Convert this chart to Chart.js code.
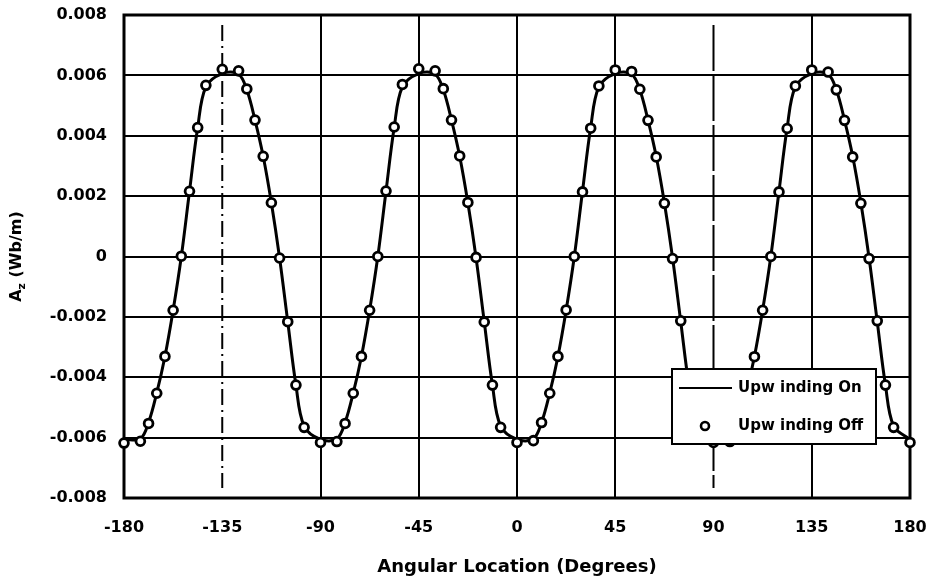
<!DOCTYPE html>
<html>
<head>
<meta charset="utf-8">
<title>Vector potential vs angular location</title>
<script src="https://cdn.jsdelivr.net/npm/chart.js@4"></script>
<style>
    html, body { margin: 0; padding: 0; background: #ffffff; }
    #chart-wrap { width: 937px; height: 585px; }
</style>
</head>
<body>
<div id="chart-wrap">
    <canvas id="az-chart" width="937" height="585" role="img" aria-label="A_z versus angular location"></canvas>
</div>
<script>
// Mesh node angles (degrees) around the air gap
const angles = [
    -180, -172.5, -168.75, -165, -161.25, -157.5, -153.75, -150, -146.25, -142.5,
    -135, -127.5, -123.75, -120, -116.25, -112.5, -108.75, -105, -101.25, -97.5,
    -90, -82.5, -78.75, -75, -71.25, -67.5, -63.75, -60, -56.25, -52.5,
    -45, -37.5, -33.75, -30, -26.25, -22.5, -18.75, -15, -11.25, -7.5,
    0, 7.5, 11.25, 15, 18.75, 22.5, 26.25, 30, 33.75, 37.5,
    45, 52.5, 56.25, 60, 63.75, 67.5, 71.25, 75, 78.75, 82.5,
    90, 97.5, 101.25, 105, 108.75, 112.5, 116.25, 120, 123.75, 127.5,
    135, 142.5, 146.25, 150, 153.75, 157.5, 161.25, 165, 168.75, 172.5,
    180
];

// A_z (Wb/m) with upwinding switched on (solid curve)
const upwindingOn = [
    -0.00606, -0.00604, -0.00550, -0.00452, -0.00331, -0.00178, 0.00000, 0.00216, 0.00427, 0.00562,
    0.00606, 0.00604, 0.00552, 0.00452, 0.00332, 0.00178, -0.00004, -0.00216, -0.00426, -0.00562,
    -0.00606, -0.00604, -0.00550, -0.00452, -0.00331, -0.00178, 0.00000, 0.00216, 0.00427, 0.00562,
    0.00606, 0.00604, 0.00552, 0.00452, 0.00332, 0.00178, -0.00004, -0.00216, -0.00426, -0.00562,
    -0.00606, -0.00604, -0.00550, -0.00452, -0.00331, -0.00178, 0.00000, 0.00216, 0.00427, 0.00562,
    0.00606, 0.00604, 0.00552, 0.00452, 0.00332, 0.00178, -0.00004, -0.00216, -0.00426, -0.00562,
    -0.00606, -0.00604, -0.00550, -0.00452, -0.00331, -0.00178, 0.00000, 0.00216, 0.00427, 0.00562,
    0.00606, 0.00604, 0.00552, 0.00452, 0.00332, 0.00178, -0.00004, -0.00216, -0.00426, -0.00562,
    -0.00606
];

// A_z (Wb/m) with upwinding switched off (circles)
const upwindingOff = [
    -0.00618, -0.00612, -0.00553, -0.00453, -0.00331, -0.00178, 0.00001, 0.00216, 0.00427, 0.00567,
    0.00620, 0.00615, 0.00555, 0.00452, 0.00332, 0.00178, -0.00005, -0.00216, -0.00426, -0.00566,
    -0.00616, -0.00613, -0.00553, -0.00453, -0.00331, -0.00178, 0.00000, 0.00217, 0.00429, 0.00570,
    0.00622, 0.00615, 0.00556, 0.00452, 0.00333, 0.00179, -0.00003, -0.00217, -0.00426, -0.00566,
    -0.00616, -0.00610, -0.00550, -0.00453, -0.00331, -0.00177, 0.00000, 0.00214, 0.00425, 0.00565,
    0.00618, 0.00613, 0.00554, 0.00451, 0.00330, 0.00176, -0.00007, -0.00213, -0.00426, -0.00566,
    -0.00616, -0.00613, -0.00553, -0.00453, -0.00332, -0.00178, 0.00000, 0.00214, 0.00424, 0.00565,
    0.00618, 0.00611, 0.00552, 0.00451, 0.00330, 0.00176, -0.00007, -0.00213, -0.00426, -0.00566,
    -0.00616
];

// Axis ticks
const xTicks = [-180, -135, -90, -45, 0, 45, 90, 135, 180];
const yTicks = [-0.008, -0.006, -0.004, -0.002, 0, 0.002, 0.004, 0.006, 0.008];

// Vertical grid lines that are broken instead of solid
const brokenLines = [
    { angle: -135, dash: [16, 5, 2, 5] },
    { angle: 90, dash: [46, 4] }
];

const seriesNames = ['Upw inding On', 'Upw inding Off'];
const xTitle = 'Angular Location (Degrees)';

const FONT = '"DejaVu Sans", Arial, sans-serif';

/**
 * Frame round the plot and the broken grid lines
 */
const framePlugin = {
    id: 'frame',
    beforeDatasetsDraw(chart) {
        const { ctx, chartArea: a, scales } = chart;
        ctx.save();
        ctx.strokeStyle = '#000';
        ctx.lineWidth = 2;

        brokenLines.forEach(line => {
            const x = scales.x.getPixelForValue(line.angle);
            ctx.setLineDash(line.dash);
            ctx.beginPath();
            ctx.moveTo(x, a.top + 10);
            ctx.lineTo(x, a.bottom - 10);
            ctx.stroke();
        });

        // heavy border
        ctx.setLineDash([]);
        ctx.lineWidth = 3;
        ctx.strokeRect(a.left, a.top, a.right - a.left, a.bottom - a.top);
        ctx.restore();
    }
};

/**
 * Rotated y axis title with subscript z
 */
const yTitlePlugin = {
    id: 'yTitle',
    afterDraw(chart) {
        const { ctx, chartArea: a } = chart;
        const big = 'bold 16px ' + FONT;
        const small = 'bold 11px ' + FONT;
        ctx.save();
        ctx.font = big;
        const wA = ctx.measureText('A').width;
        const wRest = ctx.measureText(' (Wb/m)').width;
        ctx.font = small;
        const wZ = ctx.measureText('z').width;
        const total = wA + wZ + wRest;

        ctx.translate(17, (a.top + a.bottom) / 2);
        ctx.rotate(-Math.PI / 2);
        ctx.fillStyle = '#000';
        ctx.textBaseline = 'middle';
        ctx.textAlign = 'left';
        let x = -total / 2;
        ctx.font = big;
        ctx.fillText('A', x, 0);
        x += wA;
        ctx.font = small;
        ctx.fillText('z', x, 5);
        x += wZ;
        ctx.font = big;
        ctx.fillText(' (Wb/m)', x, 0);
        ctx.restore();
    }
};

/**
 * Boxed legend inside the lower right of the plot
 */
const legendBoxPlugin = {
    id: 'legendBox',
    afterDatasetsDraw(chart) {
        const { ctx, chartArea: a } = chart;
        const left = a.right - 238;
        const top = a.top + 354;
        const w = 204;
        const h = 75;

        ctx.save();
        ctx.fillStyle = '#fff';
        ctx.fillRect(left, top, w, h);
        ctx.strokeStyle = '#000';
        ctx.lineWidth = 2;
        ctx.strokeRect(left, top, w, h);

        // solid line sample
        const row1 = top + 19;
        const row2 = top + 57;
        ctx.lineWidth = 2;
        ctx.beginPath();
        ctx.moveTo(left + 7, row1);
        ctx.lineTo(left + 60, row1);
        ctx.stroke();

        // circle sample
        ctx.lineWidth = 2.6;
        ctx.beginPath();
        ctx.arc(left + 33, row2, 4, 0, Math.PI * 2);
        ctx.fill();
        ctx.stroke();

        ctx.fillStyle = '#000';
        ctx.font = 'bold 15px ' + FONT;
        ctx.textBaseline = 'middle';
        ctx.fillText(seriesNames[0], left + 66, row1);
        ctx.fillText(seriesNames[1], left + 66, row2);
        ctx.restore();
    }
};

/**
 * Build the A_z chart
 */
function initAzChart() {
    const canvas = document.getElementById('az-chart');
    if (!canvas) return;

    const onPoints = angles.map((a, i) => ({ x: a, y: upwindingOn[i] }));
    const offPoints = angles.map((a, i) => ({ x: a, y: upwindingOff[i] }));
    const brokenAngles = brokenLines.map(l => l.angle);

    new Chart(canvas, {
        type: 'line',
        data: {
            datasets: [
                {
                    label: seriesNames[1],
                    data: offPoints,
                    showLine: false,
                    pointRadius: 4.4,
                    pointBorderWidth: 2.8,
                    pointBackgroundColor: '#fff',
                    pointBorderColor: '#000',
                    clip: false,
                    order: 0
                },
                {
                    label: seriesNames[0],
                    data: onPoints,
                    borderColor: '#000',
                    borderWidth: 3,
                    pointRadius: 0,
                    tension: 0.35,
                    fill: false,
                    clip: false,
                    order: 1
                }
            ]
        },
        options: {
            responsive: false,
            animation: false,
            devicePixelRatio: 1,
            layout: {
                padding: { left: 0, top: 15, right: 27, bottom: 0 }
            },
            scales: {
                x: {
                    type: 'linear',
                    min: -180,
                    max: 180,
                    afterBuildTicks: scale => {
                        scale.ticks = xTicks.map(v => ({ value: v }));
                    },
                    afterFit: scale => {
                        scale.height = 87;
                        // edge labels fit inside the layout padding
                        scale.paddingLeft = 0;
                        scale.paddingRight = 0;
                    },
                    ticks: {
                        color: '#000',
                        padding: 20,
                        maxRotation: 0,
                        font: { family: FONT, size: 16, weight: 'bold' }
                    },
                    grid: {
                        drawTicks: false,
                        lineWidth: 2,
                        color: ctx => brokenAngles.includes(ctx.tick && ctx.tick.value) ? 'rgba(0,0,0,0)' : '#000'
                    },
                    border: { display: false },
                    title: {
                        display: true,
                        text: xTitle,
                        color: '#000',
                        padding: { top: 0, bottom: 7 },
                        font: { family: FONT, size: 18, weight: 'bold' }
                    }
                },
                y: {
                    type: 'linear',
                    min: -0.008,
                    max: 0.008,
                    afterBuildTicks: scale => {
                        scale.ticks = yTicks.map(v => ({ value: v }));
                    },
                    afterFit: scale => {
                        scale.width = 124;
                        scale.paddingTop = 0;
                        scale.paddingBottom = 0;
                    },
                    ticks: {
                        color: '#000',
                        padding: 17,
                        font: { family: FONT, size: 16, weight: 'bold' },
                        callback: value => value === 0 ? '0' : value.toFixed(3)
                    },
                    grid: {
                        drawTicks: false,
                        lineWidth: 2,
                        color: '#000'
                    },
                    border: { display: false }
                }
            },
            plugins: {
                legend: { display: false },
                tooltip: { enabled: false }
            }
        },
        plugins: [framePlugin, yTitlePlugin, legendBoxPlugin]
    });
}

document.addEventListener('DOMContentLoaded', function() {
    initAzChart();
});
</script>
</body>
</html>
